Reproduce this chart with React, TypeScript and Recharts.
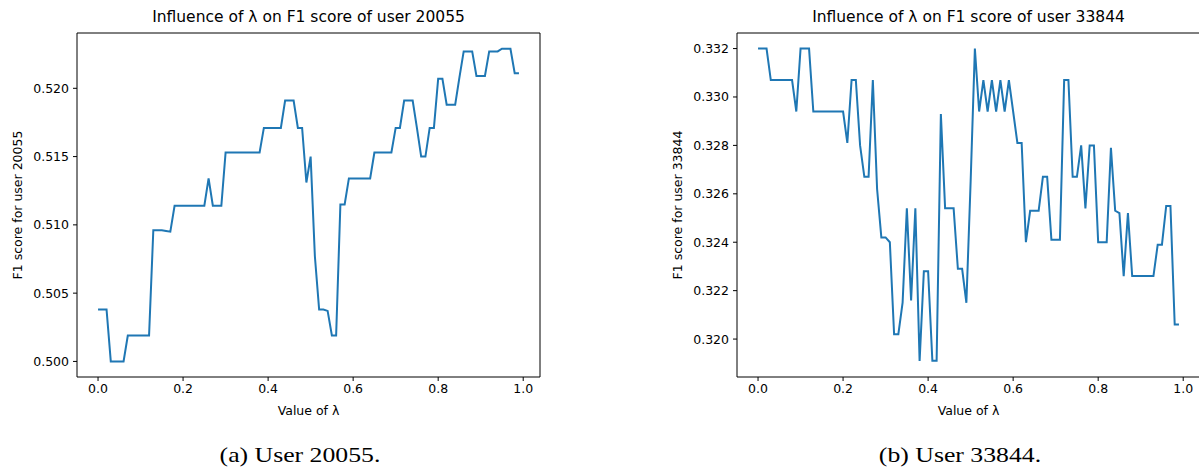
import { LineChart, Line, XAxis, YAxis, ReferenceArea } from 'recharts';

// lambda grid 0.00 .. 0.99 (step 0.01)
const lambdas = Array.from({ length: 100 }, (_, i) => i / 100);

const user20055F1 = [
  0.5038, 0.5038, 0.5038,
  0.5, 0.5, 0.5, 0.5,
  0.5019, 0.5019, 0.5019, 0.5019, 0.5019, 0.5019,
  0.5096, 0.5096, 0.5096, 0.50955, 0.5095,
  0.5114, 0.5114, 0.5114, 0.5114, 0.5114, 0.5114, 0.5114, 0.5114,
  0.5134,
  0.5114, 0.5114, 0.5114,
  0.5153, 0.5153, 0.5153, 0.5153, 0.5153, 0.5153, 0.5153, 0.5153, 0.5153,
  0.5171, 0.5171, 0.5171, 0.5171, 0.5171,
  0.5191, 0.5191, 0.5191,
  0.5171, 0.5171,
  0.5131, 0.515, 0.5077,
  0.5038, 0.5038, 0.5037,
  0.5019, 0.5019,
  0.5115, 0.5115,
  0.5134, 0.5134, 0.5134, 0.5134, 0.5134, 0.5134,
  0.5153, 0.5153, 0.5153, 0.5153, 0.5153,
  0.5171, 0.5171,
  0.5191, 0.5191, 0.5191,
  0.5171,
  0.515, 0.515,
  0.5171, 0.5171,
  0.5207, 0.5207,
  0.5188, 0.5188, 0.5188,
  0.5208,
  0.5227, 0.5227, 0.5227,
  0.5209, 0.5209, 0.5209,
  0.5227, 0.5227, 0.5227,
  0.5229, 0.5229, 0.5229,
  0.5211, 0.5211,
];

const user33844F1 = [
  0.332, 0.332, 0.332,
  0.3307, 0.3307, 0.3307, 0.3307, 0.3307, 0.3307,
  0.3294,
  0.332, 0.332, 0.332,
  0.3294, 0.3294, 0.3294, 0.3294, 0.3294, 0.3294, 0.3294, 0.3294,
  0.3281, 0.3307, 0.3307, 0.328, 0.3267, 0.3267, 0.3307, 0.3262,
  0.3242, 0.3242, 0.324, 0.3202, 0.3202, 0.3215,
  0.3254, 0.3216, 0.3254, 0.3191, 0.3228, 0.3228, 0.3191, 0.3191,
  0.3293, 0.3254, 0.3254, 0.3254, 0.3229, 0.3229, 0.3215, 0.3265,
  0.332, 0.3294, 0.3307, 0.3294, 0.3307, 0.3294, 0.3307, 0.3294, 0.3307, 0.3294,
  0.3281, 0.3281, 0.324,
  0.3253, 0.3253, 0.3253,
  0.3267, 0.3267,
  0.3241, 0.3241, 0.3241,
  0.3307, 0.3307,
  0.3267, 0.3267,
  0.328, 0.3254, 0.328, 0.328,
  0.324, 0.324, 0.324,
  0.3279, 0.3253, 0.3252, 0.3226, 0.3252,
  0.3226, 0.3226, 0.3226, 0.3226, 0.3226, 0.3226,
  0.3239, 0.3239,
  0.3255, 0.3255,
  0.3206, 0.3206,
];

const xTicks = [0, 0.2, 0.4, 0.6, 0.8, 1.0];
const yTicks20055 = [0.5, 0.505, 0.51, 0.515, 0.52];
const yTicks33844 = [0.32, 0.322, 0.324, 0.326, 0.328, 0.33, 0.332];

const FONT = '"DejaVu Sans", sans-serif';
const LINE = '#1f77b4';

type PanelProps = {
  left: number;
  user: string;
  values: number[];
  yTicks: number[];
  yDomain: [number, number];
  marginLeft: number;
  marginRight: number;
};

function Panel({ left, user, values, yTicks, yDomain, marginLeft, marginRight }: PanelProps) {
  const data = lambdas.map((lam, i) => ({ lambda: lam, f1: values[i] }));
  const xDomain: [number, number] = [-0.0495, 1.0395];

  const yLabel = (props: any) => {
    const vb = props.viewBox || { x: 0, y: 33, width: 77, height: 344 };
    const cx = vb.x + 17;
    const cy = vb.y + vb.height / 2;
    return (
      <text x={cx} y={cy} transform={`rotate(-90 ${cx} ${cy})`} textAnchor="middle"
        dominantBaseline="central" fontSize={12.5} fill="#000" fontFamily={FONT}>
        {`F1 score for user ${user}`}
      </text>
    );
  };

  const xLabel = (props: any) => {
    const vb = props.viewBox || { x: 77, y: 377, width: 463, height: 90 };
    return (
      <text x={vb.x + vb.width / 2} y={vb.y + 38} textAnchor="middle"
        fontSize={12.5} fill="#000" fontFamily={FONT}>
        Value of λ
      </text>
    );
  };

  return (
    <div style={{ position: 'absolute', left, top: 0, width: 600, height: 467 }}>
      <LineChart width={600} height={467} data={data}
        margin={{ top: 33, right: marginRight, bottom: 0, left: marginLeft }}
        style={{ fontFamily: FONT }}>
        <XAxis dataKey="lambda" type="number" domain={xDomain} allowDataOverflow
          ticks={xTicks} interval={0} tickFormatter={(v: number) => v.toFixed(1)}
          height={90} axisLine={false} tickSize={4} tickMargin={3}
          tickLine={{ stroke: '#000' }} tick={{ fontSize: 12.5, fill: '#000' }}
          label={xLabel} />
        <YAxis type="number" domain={yDomain} allowDataOverflow ticks={yTicks} interval={0}
          tickFormatter={(v: number) => v.toFixed(3)} width={77} axisLine={false}
          tickSize={4} tickMargin={4} tickLine={{ stroke: '#000' }}
          tick={{ fontSize: 12.5, fill: '#000' }} label={yLabel} />
        <ReferenceArea x1={xDomain[0]} x2={xDomain[1]} y1={yDomain[0]} y2={yDomain[1]}
          fill="none" stroke="#000" strokeWidth={1} fillOpacity={0} ifOverflow="visible" />
        <Line type="linear" dataKey="f1" stroke={LINE} strokeWidth={2} dot={false}
          isAnimationActive={false} />
      </LineChart>
    </div>
  );
}

const titleStyle: React.CSSProperties = {
  position: 'absolute', top: 8, width: 463, textAlign: 'center',
  fontFamily: FONT, fontSize: 15.5, color: '#000', lineHeight: '18px', whiteSpace: 'nowrap',
};

// caption: Computer-Modern look-alike, widened a little
const captionStyle: React.CSSProperties = {
  position: 'absolute', top: 442, width: 600, textAlign: 'center',
  fontFamily: '"Liberation Serif", serif', fontSize: 22, color: '#000',
  lineHeight: '25px', whiteSpace: 'nowrap', transform: 'scaleX(1.17)',
};

export default function App() {
  return (
    <div style={{ position: 'absolute', left: 0, top: 0, width: 1199, height: 467,
      overflow: 'hidden', background: '#fff' }}>
      <Panel left={0} user="20055" values={user20055F1} yTicks={yTicks20055}
        yDomain={[0.49886, 0.52405]} marginLeft={0} marginRight={60} />
      <Panel left={600} user="33844" values={user33844F1} yTicks={yTicks33844}
        yDomain={[0.318433, 0.332643]} marginLeft={60} marginRight={0} />
      <div style={{ ...titleStyle, left: 77 }}>Influence of λ on F1 score of user 20055</div>
      <div style={{ ...titleStyle, left: 737 }}>Influence of λ on F1 score of user 33844</div>
      <div style={{ ...captionStyle, left: 0 }}>(a) User 20055.</div>
      <div style={{ ...captionStyle, left: 660 }}>(b) User 33844.</div>
    </div>
  );
}
